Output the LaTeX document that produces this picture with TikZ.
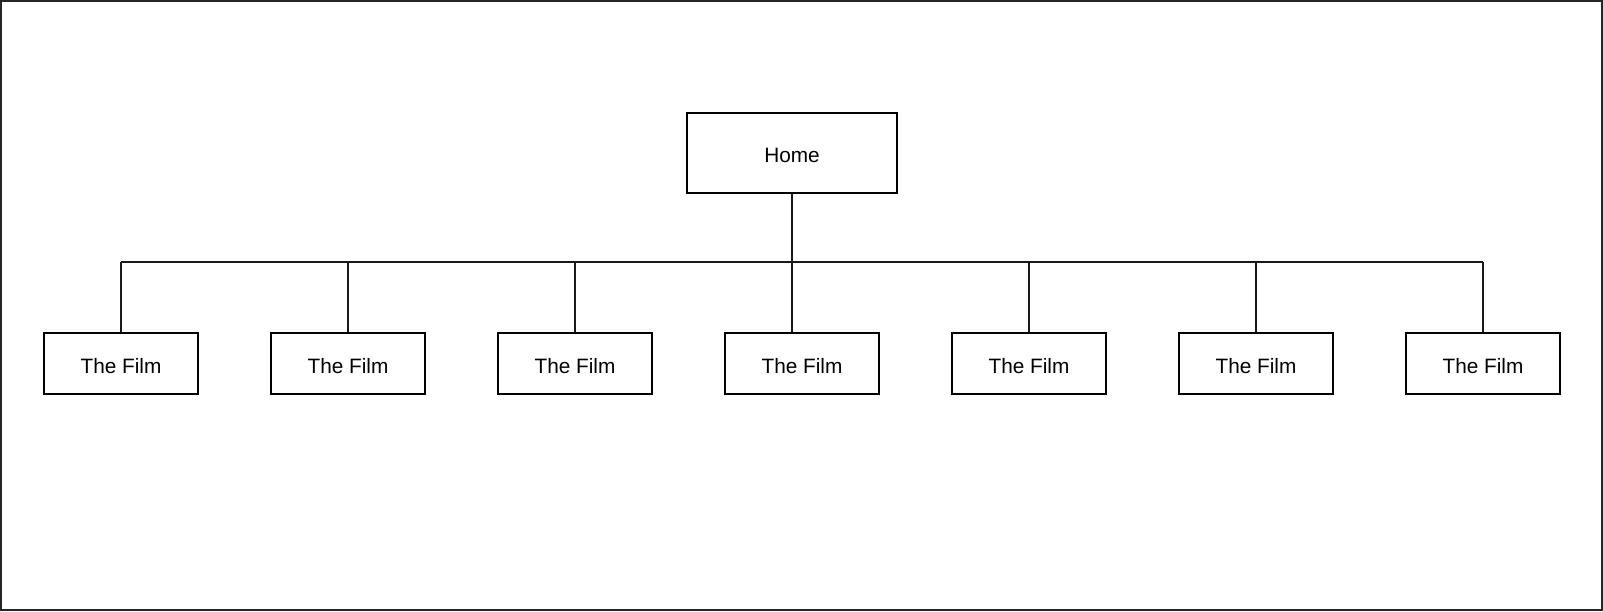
\documentclass[tikz,border=0pt]{standalone}
\usepackage{fontspec}
\setmainfont{Liberation Sans}
\usepackage{tikz}
\usetikzlibrary{positioning}

\tikzset{
	pagebox/.style={draw=black, line width=2pt, fill=white, minimum width=210pt, minimum height=80pt, inner sep=0pt, text height=19pt, text depth=0pt, font=\fontsize{20.8}{24}\selectfont},
	filmbox/.style={pagebox, minimum width=154pt, minimum height=61pt},
	link/.style={draw=black!90, line width=2pt},
	thinlink/.style={draw=black!90, line width=1.2pt}
}

\begin{document}
\begin{tikzpicture}[x=1pt, y=-1pt]
				\useasboundingbox (0,0) rectangle (1603,611);
				\draw [line width=2pt, draw=black!85] (1,1) rectangle (1602,610);
				\node [pagebox] (home) at (792,153) {Home};
				\foreach \i/\x in {1/121, 2/348, 3/575, 4/802, 5/1029, 6/1256, 7/1483}
					\node [filmbox] (film\i) at (\x,363.5) {The Film};
				\coordinate (bus) at (792,262);
				\draw [link] (home.south) -- (bus);
				\draw [link] (film1.north |- bus) -- (film7.north |- bus);
				\draw [thinlink] (film1.north) -- (film1.north |- bus);
				\draw [thinlink] (film7.north) -- (film7.north |- bus);
				\foreach \i in {2,3,5,6}
					\draw [link] (film\i.north) -- (film\i.north |- bus);
				\draw [link] (bus |- film4.north) -- (bus);
\end{tikzpicture}
\end{document}
